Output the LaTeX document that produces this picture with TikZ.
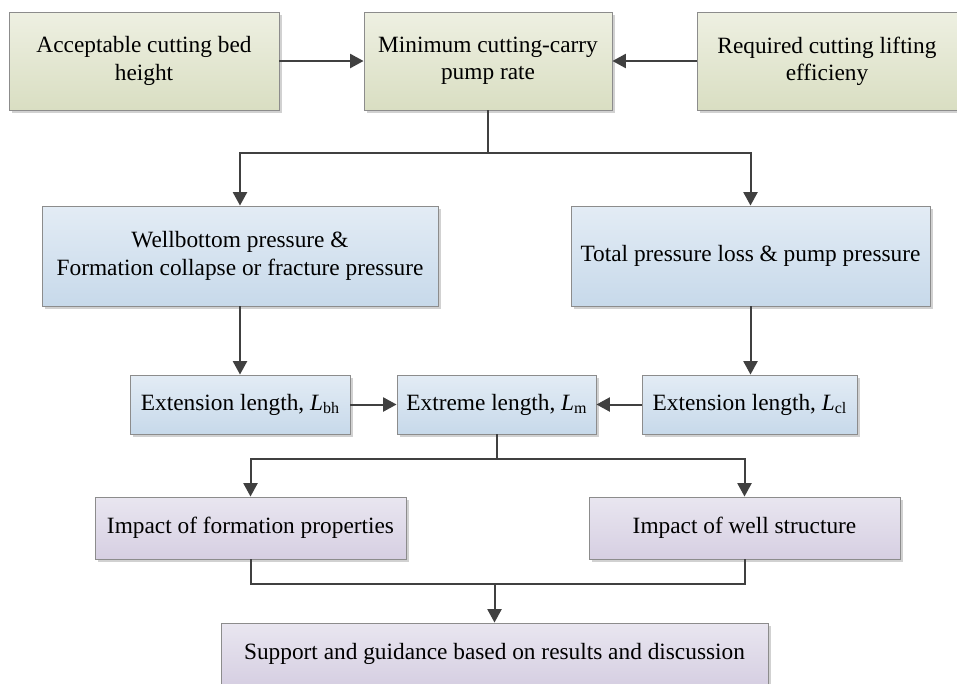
\documentclass[tikz,border=0pt]{standalone}
\usepackage{fontspec}
\setmainfont{Liberation Serif}
\usetikzlibrary{arrows.meta, positioning, shadows}
\definecolor{GrnTop}{HTML}{EEF0E2}
\definecolor{GrnBot}{HTML}{D9DEC2}
\definecolor{BluTop}{HTML}{E3ECF5}
\definecolor{BluBot}{HTML}{C7D9EA}
\definecolor{PurTop}{HTML}{E9E6F0}
\definecolor{PurBot}{HTML}{D6CFE2}
\colorlet{Cline}{black!75}
\newcommand{\sub}[1]{\raisebox{-0.3ex}{\fontsize{12}{12}\selectfont #1}}
\tikzset{
  box/.style={draw=black!45, line width=0.7pt, align=center, inner sep=0pt,
    font=\fontsize{17.5}{20.5}\selectfont,
    drop shadow={shadow xshift=2pt, shadow yshift=-2pt, opacity=0.18, fill=black}},
  gbox/.style={box, top color=GrnTop, bottom color=GrnBot},
  bbox/.style={box, top color=BluTop, bottom color=BluBot},
  pbox/.style={box, top color=PurTop, bottom color=PurBot},
  link/.style={line width=1.5pt, Cline},
  arr/.style={link, -{Triangle[length=10pt, width=10.5pt]}},
}
\begin{document}
\begin{tikzpicture}[x=0.75pt, y=-0.75pt]
\useasboundingbox (0,0) rectangle (957,683);

%%==========================================================================
%% TOP ROW — pump rate requirements
%%==========================================================================
\node[gbox, minimum width=202.5pt, minimum height=73.5pt] (accept)  at (144,61)
  {Acceptable cutting bed\\height};
\node[gbox, minimum width=186pt, minimum height=73.5pt]   (minrate) at (488,61)
  {Minimum cutting-carry\\pump rate};
\node[gbox, minimum width=195pt, minimum height=73.5pt]   (reqlift) at (827,61)
  {Required cutting lifting\\efficieny};

\draw[arr] (accept) -- (minrate);
\draw[arr] (reqlift) -- (minrate);

%%==========================================================================
%% PRESSURE CHECKS
%%==========================================================================
\node[bbox, minimum width=297pt, minimum height=75pt]     (wbp) at (240,256)
  {Wellbottom pressure \&\\Formation collapse or fracture pressure};
\node[bbox, minimum width=269.25pt, minimum height=75pt]  (tpl) at (750.5,256)
  {Total pressure loss \& pump pressure};

\coordinate (split1) at (488,153);
\draw[link] (minrate.south) -- (split1);
\draw[arr] (split1) -| (wbp.north);
\draw[arr] (split1) -| (tpl.north);

%%==========================================================================
%% LENGTHS
%%==========================================================================
\node[bbox, minimum width=165pt, minimum height=44.25pt]    (extbh) at (240,404.5)
  {Extension length, \textit{L}\sub{bh}};
\node[bbox, minimum width=149.25pt, minimum height=44.25pt] (extm) at (496.5,404.5)
  {Extreme length, \textit{L}\sub{m}};
\node[bbox, minimum width=161.25pt, minimum height=44.25pt] (extcl) at (749.5,404.5)
  {Extension length, \textit{L}\sub{cl}};

\draw[arr] (wbp) -- (extbh);
\draw[arr] (tpl.south) -- (tpl.south |- extcl.north);
\draw[arr] (extbh) -- (extm);
\draw[arr] (extcl) -- (extm);

%%==========================================================================
%% IMPACT STUDIES AND CONCLUSION
%%==========================================================================
\node[pbox, minimum width=233.25pt, minimum height=46.5pt] (fmp) at (250.5,528)
  {Impact of formation properties};
\node[pbox, minimum width=233.25pt, minimum height=46.5pt] (wst) at (744.5,528)
  {Impact of well structure};
\node[pbox, minimum width=410.25pt, minimum height=46.5pt] (guide) at (494.5,654)
  {Support and guidance based on results and discussion};

\coordinate (split2) at (496.5,459);
\draw[link] (extm.south) -- (split2);
\draw[arr] (split2) -| (fmp.north);
\draw[arr] (split2) -| (wst.north);

\coordinate (merge) at (494.5,584);
\draw[link] (fmp.south) |- (merge) -| (wst.south);
\draw[arr] (merge) -- (guide);

\end{tikzpicture}
\end{document}
